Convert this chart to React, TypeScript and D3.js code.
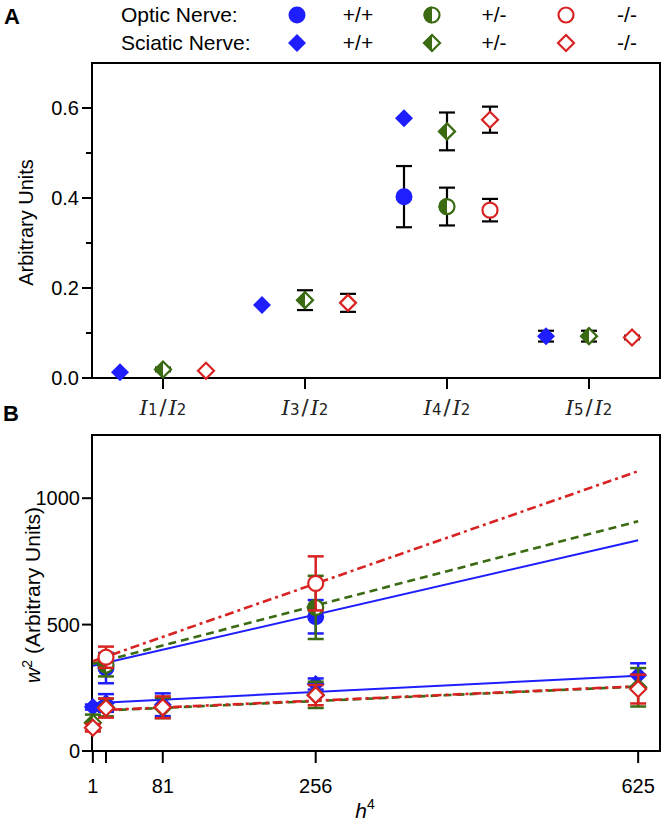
import React from 'react';
import * as d3 from 'd3';

// ---------- DATA ----------
const categories = ['I1/I2', 'I3/I2', 'I4/I2', 'I5/I2'];
const genotypes = ['+/+', '+/-', '-/-'];
const colors = ['#1e1eff', '#3a6b12', '#d92222'];

// Panel A – sciatic nerve (diamonds), one row per genotype, one value per category
const sciaticA = [
  [0.013, 0.162, 0.577, 0.093],
  [0.019, 0.173, 0.548, 0.093],
  [0.016, 0.167, 0.574, 0.09],
];
const sciaticAErr = [
  [0, 0, 0, 0.012],
  [0.004, 0.022, 0.042, 0.012],
  [0, 0.02, 0.029, 0.004],
];
// Panel A – optic nerve (circles), only at I4/I2
const opticACategory = 'I4/I2';
const opticA = [0.403, 0.381, 0.373];
const opticAErr = [0.068, 0.042, 0.025];
const yTicksA = [0, 0.2, 0.4, 0.6];
const yMinorA = [0.1, 0.3, 0.5];

// Panel B
const h4 = [1, 16, 81, 256, 625];
const h4Labels = ['1', '', '81', '256', '625'];
const yTicksB = [0, 500, 1000];
const sciaticB = [
  [174, 190, 183, 265, 300],
  [112, 172, 170, 222, 252],
  [92, 170, 173, 221, 245],
];
const sciaticBErr = [
  [10, 35, 45, 22, 47],
  [32, 35, 40, 52, 76],
  [15, 38, 43, 40, 57],
];
const opticH4 = [16, 256];
const opticB = [
  [328, 531],
  [340, 568],
  [371, 663],
];
const opticBErr = [
  [60, 66],
  [45, 125],
  [42, 107],
];
// fitted line end values at h4 = 1 and h4 = 625
const fitRange = [1, 625];
const opticFit = [
  [337, 834],
  [345, 909],
  [355, 1107],
];
const sciaticFit = [
  [189, 298],
  [158, 255],
  [160, 256],
];
const dashes = ['none', '8 5', '9 4 3 4'];

// ---------- HELPERS ----------
const FONT = 'Liberation Sans, Arial, sans-serif';
const R = 8.5;
const S = 9;

function Marker({ shape, g, x, y }: { shape: 'circle' | 'diamond'; g: number; x: number; y: number }) {
  const c = colors[g];
  if (shape === 'circle') {
    if (g === 0) return <circle cx={x} cy={y} r={R} fill={c} />;
    if (g === 1)
      return (
        <g transform={`translate(${x},${y})`}>
          <circle r={R - 1} fill="#fff" stroke={c} strokeWidth={2.2} />
          <path d={`M0,${-R} A${R},${R} 0 0 0 0,${R} Z`} fill={c} />
        </g>
      );
    return <circle cx={x} cy={y} r={R - 1} fill="#fff" stroke={c} strokeWidth={2.2} />;
  }
  const d = `M0,${-S} L${S},0 L0,${S} L${-S},0 Z`;
  const di = `M0,${-(S - 1)} L${S - 1},0 L0,${S - 1} L${-(S - 1)},0 Z`;
  if (g === 0) return <path transform={`translate(${x},${y})`} d={d} fill={c} />;
  if (g === 1)
    return (
      <g transform={`translate(${x},${y})`}>
        <path d={di} fill="#fff" stroke={c} strokeWidth={2.2} />
        <path d={`M0,${-S} L${-S},0 L0,${S} Z`} fill={c} />
      </g>
    );
  return <path transform={`translate(${x},${y})`} d={di} fill="#fff" stroke={c} strokeWidth={2.2} />;
}

function ErrBar({ x, y0, y1, color, w = 2 }: { x: number; y0: number; y1: number; color: string; w?: number }) {
  const cw = 8;
  return (
    <g stroke={color} strokeWidth={w}>
      <line x1={x} x2={x} y1={y0} y2={y1} />
      <line x1={x - cw} x2={x + cw} y1={y0} y2={y0} />
      <line x1={x - cw} x2={x + cw} y1={y1} y2={y1} />
    </g>
  );
}

function CatLabel({ label, x, y }: { label: string; x: number; y: number }) {
  const [a, b] = label.split('/');
  return (
    <text x={x} y={y} textAnchor="middle" fontSize={21} fill="#222">
      <tspan fontFamily="DejaVu Serif" fontStyle="italic">I</tspan>
      <tspan fontFamily="DejaVu Sans" fontSize={15}>{a.slice(1)}</tspan>
      <tspan fontFamily="DejaVu Sans" dx={2}>/</tspan>
      <tspan fontFamily="DejaVu Serif" fontStyle="italic" dx={2}>I</tspan>
      <tspan fontFamily="DejaVu Sans" fontSize={15}>{b.slice(1)}</tspan>
    </text>
  );
}

export default function App() {
  const L = 92, Rt = 660;
  const topA = 63, botA = 378;
  const topB = 435, botB = 751;

  const xA = d3.scaleBand<string>().domain(categories).range([L, Rt]);
  const off = d3.scalePoint<string>().domain(genotypes).range([-43, 43]);
  const yA = d3.scaleLinear().domain([0, 0.7]).range([botA, topA]);
  const cx = (c: string) => (xA(c) as number) + xA.bandwidth() / 2;

  const xB = d3.scaleLinear().domain([0, 650]).range([L, Rt]);
  const yB = d3.scaleLinear().domain([0, 1250]).range([botB, topB]);
  const line = d3
    .line<[number, number]>()
    .x((d) => xB(d[0]))
    .y((d) => yB(d[1]));

  const legendMarkX = [297, 432, 566];
  const legendTextX = [358, 494, 627];

  return (
    <svg width={664} height={824} style={{ position: 'absolute', left: 0, top: 0 }} fontFamily={FONT}>
      <rect width={664} height={824} fill="#fff" />
      {/* Panel labels */}
      <text x={4} y={24} fontSize={22} fontWeight="bold">A</text>
      <text x={3} y={421} fontSize={22} fontWeight="bold">B</text>

      {/* Legend */}
      {['Optic Nerve:', 'Sciatic Nerve:'].map((t, r) => {
        const y = r === 0 ? 15 : 43;
        return (
          <g key={t}>
            <text x={121} y={y + 7} fontSize={21}>{t}</text>
            {genotypes.map((gname, g) => (
              <g key={gname}>
                <Marker shape={r === 0 ? 'circle' : 'diamond'} g={g} x={legendMarkX[g]} y={y} />
                <text x={legendTextX[g]} y={y + 7} fontSize={21} textAnchor="middle">{gname}</text>
              </g>
            ))}
          </g>
        );
      })}

      {/* ---------- Panel A ---------- */}
      <rect x={L} y={topA} width={Rt - L} height={botA - topA} fill="none" stroke="#000" strokeWidth={2} />
      {yTicksA.map((t) => (
        <g key={t}>
          <line x1={L - 10} x2={L} y1={yA(t)} y2={yA(t)} stroke="#000" strokeWidth={2} />
          <text x={L - 13} y={yA(t) + 7} fontSize={20} textAnchor="end">{t.toFixed(1)}</text>
        </g>
      ))}
      {yMinorA.map((t) => (
        <line key={t} x1={L - 6} x2={L} y1={yA(t)} y2={yA(t)} stroke="#000" strokeWidth={2} />
      ))}
      {categories.map((c) => (
        <g key={c}>
          <line x1={cx(c)} x2={cx(c)} y1={botA} y2={botA + 11} stroke="#000" strokeWidth={2} />
          <CatLabel label={c} x={cx(c)} y={415} />
        </g>
      ))}
      <text transform={`translate(33,${(topA + botA) / 2 + 2}) rotate(-90)`} textAnchor="middle" fontSize={20}>Arbitrary Units</text>

      {/* optic circles at I4/I2 */}
      {genotypes.map((gname, g) => {
        const x = cx(opticACategory) + (off(gname) as number);
        return (
          <g key={'oa' + g}>
            <ErrBar x={x} y0={yA(opticA[g] - opticAErr[g])} y1={yA(opticA[g] + opticAErr[g])} color="#000" w={2.2} />
            <Marker shape="circle" g={g} x={x} y={yA(opticA[g])} />
          </g>
        );
      })}
      {/* sciatic diamonds */}
      {genotypes.map((gname, g) =>
        categories.map((c, i) => {
          const x = cx(c) + (off(gname) as number);
          const v = sciaticA[g][i];
          const e = sciaticAErr[g][i];
          return (
            <g key={'sa' + g + i}>
              {e > 0 && <ErrBar x={x} y0={yA(v - e)} y1={yA(v + e)} color="#000" w={2.2} />}
              <Marker shape="diamond" g={g} x={x} y={yA(v)} />
            </g>
          );
        })
      )}

      {/* ---------- Panel B ---------- */}
      <rect x={L} y={topB} width={Rt - L} height={botB - topB} fill="none" stroke="#000" strokeWidth={2} />
      {yTicksB.map((t) => (
        <g key={t}>
          <line x1={L - 10} x2={L} y1={yB(t)} y2={yB(t)} stroke="#000" strokeWidth={2} />
          <text x={L - 12} y={yB(t) + 7} fontSize={20} textAnchor="end">{t}</text>
        </g>
      ))}
      {h4.map((t, i) => (
        <g key={t}>
          <line x1={xB(t)} x2={xB(t)} y1={botB} y2={botB + 12} stroke="#000" strokeWidth={2} />
          {h4Labels[i] && (
            <text x={xB(t)} y={793} fontSize={20} textAnchor="middle">{h4Labels[i]}</text>
          )}
        </g>
      ))}
      <text x={365} y={818} fontSize={21} textAnchor="middle">
        <tspan fontStyle="italic">h</tspan>
        <tspan fontSize={14} dy={-9}>4</tspan>
      </text>
      <text transform={`translate(40,${(topB + botB) / 2 + 2}) rotate(-90)`} textAnchor="middle" fontSize={21}>
        <tspan fontStyle="italic">w</tspan>
        <tspan fontSize={14} dy={-8}>2</tspan>
        <tspan dy={8}> (Arbitrary Units)</tspan>
      </text>

      {/* fit lines */}
      {genotypes.map((gname, g) => (
        <g key={'fit' + g} fill="none" stroke={colors[g]} strokeWidth={g === 0 ? 2 : 2.6} strokeDasharray={dashes[g]}>
          <path d={line([[fitRange[0], opticFit[g][0]], [fitRange[1], opticFit[g][1]]]) as string} />
          <path d={line([[fitRange[0], sciaticFit[g][0]], [fitRange[1], sciaticFit[g][1]]]) as string} />
        </g>
      ))}

      {/* points, drawn per genotype so red is on top */}
      {genotypes.map((gname, g) => (
        <g key={'pts' + g}>
          {h4.map((t, i) => {
            const v = sciaticB[g][i];
            const e = sciaticBErr[g][i];
            return (
              <g key={'sb' + i}>
                <ErrBar x={xB(t)} y0={yB(v - e)} y1={yB(v + e)} color={colors[g]} w={2.5} />
                <Marker shape="diamond" g={g} x={xB(t)} y={yB(v)} />
              </g>
            );
          })}
          {opticH4.map((t, i) => {
            const v = opticB[g][i];
            const e = opticBErr[g][i];
            return (
              <g key={'ob' + i}>
                <ErrBar x={xB(t)} y0={yB(v - e)} y1={yB(v + e)} color={colors[g]} w={2.5} />
                <Marker shape="circle" g={g} x={xB(t)} y={yB(v)} />
              </g>
            );
          })}
        </g>
      ))}
    </svg>
  );
}
